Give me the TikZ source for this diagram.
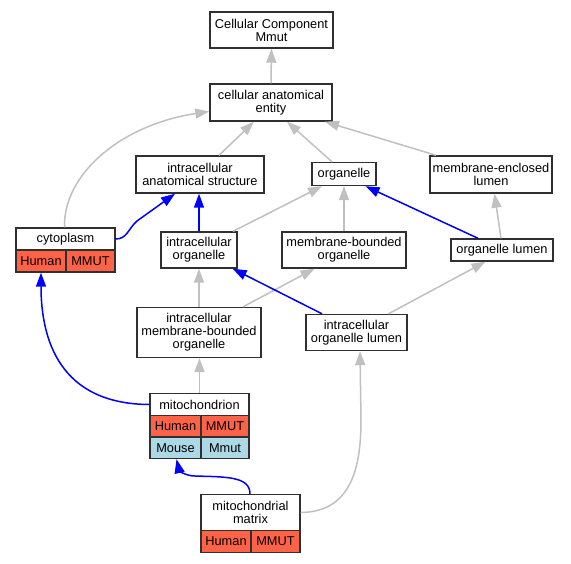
\documentclass[tikz,border=0pt]{standalone}
\usepackage{fontspec}
\setmainfont{Liberation Sans}
\usetikzlibrary{arrows.meta,calc}
\definecolor{edgegray}{HTML}{C0C0C0}
\definecolor{tomatored}{HTML}{FF6347}
\definecolor{lblue}{HTML}{ADD8E6}
\definecolor{border}{HTML}{303030}
\newcommand\lblfont{\fontsize{12.8}{13}\selectfont}
\begin{document}
\begin{tikzpicture}[x=1pt,y=-1pt,
  box/.style={draw=border, line width=1.4pt, fill=white, inner sep=0pt, align=center, font=\lblfont},
  redcell/.style={box, fill=tomatored},
  bluecell/.style={box, fill=lblue},
  isa/.style={draw=edgegray, line width=1.5pt, -{Triangle[length=14pt,width=10pt]}},
  part/.style={draw=blue, line width=1.5pt, -{Triangle[length=14pt,width=10pt]}}]
\useasboundingbox (0,0) rectangle (571,563);
% nodes
\node[box, minimum width=123pt, minimum height=36pt] (cc) at (271.5,30) {Cellular Component\\Mmut};
\node[box, minimum width=122pt, minimum height=37pt] (cae) at (271,102.5) {cellular anatomical\\entity};
\node[box, minimum width=128pt, minimum height=37pt] (ias) at (200,174.5) {intracellular\\anatomical structure};
\node[box, minimum width=64pt, minimum height=23pt] (org) at (344,174) {organelle};
\node[box, minimum width=122pt, minimum height=37pt] (mel) at (491,174.5) {membrane-enclosed\\lumen};
\node[box, minimum width=99pt, minimum height=22pt] (cyt) at (65.5,239) {cytoplasm};
\node[redcell, minimum width=50pt, minimum height=22pt] (cytH) at (41,261) {Human};
\node[redcell, minimum width=49pt, minimum height=22pt] (cytM) at (90.5,261) {MMUT};
\node[box, minimum width=76pt, minimum height=36pt] (io) at (199,250) {intracellular\\organelle};
\node[box, minimum width=124pt, minimum height=36pt] (mbo) at (344,250) {membrane-bounded\\organelle};
\node[box, minimum width=102pt, minimum height=22pt] (ol) at (502,250) {organelle lumen};
\node[box, minimum width=124pt, minimum height=50pt] (imbo) at (199,332.5) {intracellular\\membrane-bounded\\organelle};
\node[box, minimum width=101pt, minimum height=36pt] (iol) at (356.5,332.5) {intracellular\\organelle lumen};
\node[box, minimum width=99pt, minimum height=22pt] (mito) at (199.5,404.5) {mitochondrion};
\node[redcell, minimum width=51pt, minimum height=21.5pt] (mitoH) at (175.5,426.25) {Human};
\node[redcell, minimum width=48pt, minimum height=21.5pt] (mitoM) at (225,426.25) {MMUT};
\node[bluecell, minimum width=51pt, minimum height=21.5pt] (mitoMo) at (175.5,447.75) {Mouse};
\node[bluecell, minimum width=48pt, minimum height=21.5pt] (mitoMm) at (225,447.75) {Mmut};
\node[box, minimum width=99pt, minimum height=36pt] (mm) at (250.5,512.5) {mitochondrial\\matrix};
\node[redcell, minimum width=50pt, minimum height=22pt] (mmH) at (226,541.5) {Human};
\node[redcell, minimum width=49pt, minimum height=22pt] (mmM) at (275.5,541.5) {MMUT};
% edges
\draw[isa] (cae.north) -- (cc.south);
\draw[isa] ($(cyt.north)+(-1,0)$) .. controls (63,175) and (120,125) .. ($(cae.west)+(0,9)$);
\draw[isa] ($(ias.north)+(19,0)$) -- ($(cae.south)+(-17,0)$);
\draw[isa] ($(org.north)+(-12,0)$) -- ($(cae.south)+(16,0)$);
\draw[isa] ($(mel.north)+(-55,0)$) -- ($(cae.south)+(54,0)$);
\draw[part] (cyt.east) .. controls (127,239) and (128,229) .. (137,221) -- ($(ias.south)+(-25,0)$);
\draw[part] (io.north) -- (io.north |- ias.south);
\draw[isa] ($(io.north)+(34,0)$) -- ($(org.south)+(-22,0)$);
\draw[isa] (mbo.north) -- (org.south);
\draw[part] ($(ol.north)+(-24,0)$) -- ($(org.south)+(21.5,0)$);
\draw[isa] ($(ol.north)+(-1,0)$) -- ($(mel.south)+(3.5,0)$);
\draw[isa] (imbo.north) -- (io.south);
\draw[isa] ($(imbo.north)+(44,0)$) -- ($(mbo.south)+(-29.5,0)$);
\draw[part] ($(iol.north)+(-34.5,0)$) -- ($(io.south)+(33.7,0)$);
\draw[isa] ($(iol.north)+(32,0)$) -- ($(ol.south)+(-16.5,0)$);
\draw[isa] (mito.north) -- (mito.north |- imbo.south);
\draw[part] (mito.west) .. controls (60,404) and (41,340) .. (cytH.south);
\draw[part] ($(mm.north)+(-0.5,0)$) .. controls (250,476) and (225,477) .. (195,476) .. controls (185,476) and (179,470) .. ($(mitoMo.south)+(1,0)$);
\draw[isa] (mm.east) .. controls (350,512) and (361,470) .. (361,420) -- ($(iol.south)+(3.5,0)$);
\end{tikzpicture}
\end{document}
